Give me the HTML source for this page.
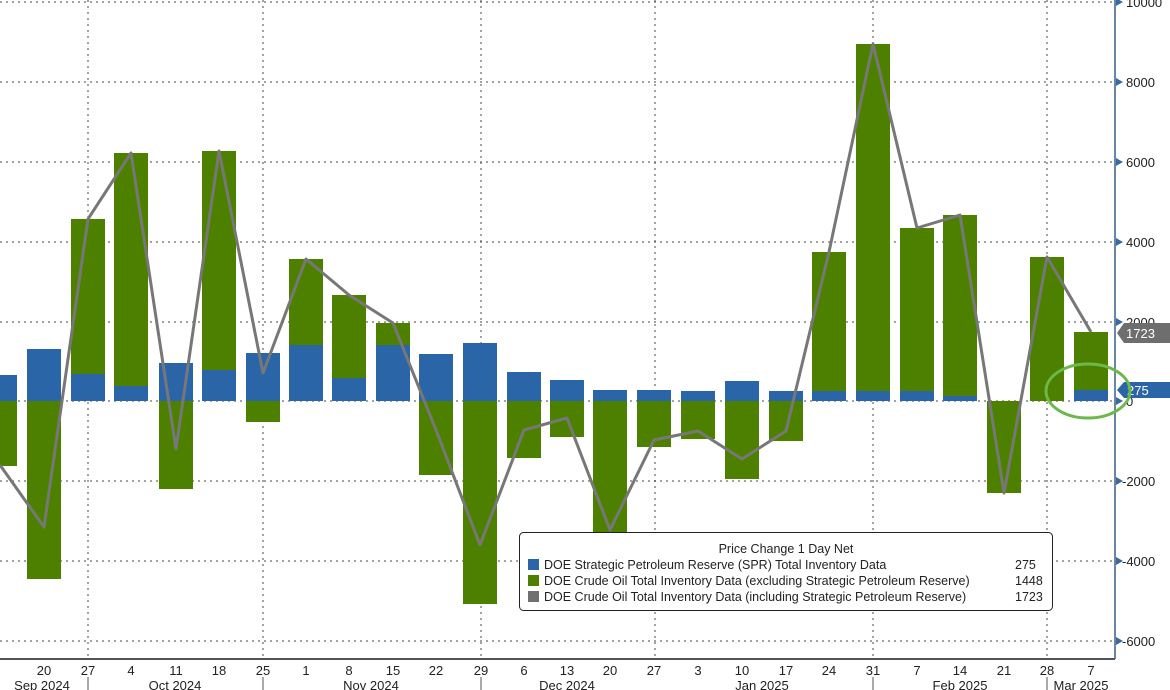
<!DOCTYPE html>
<html><head><meta charset="utf-8"><style>
html,body{margin:0;padding:0;background:#fff;}
svg{display:block;font-family:"Liberation Sans",sans-serif;}
</style></head><body>
<svg width="1170" height="690" viewBox="0 0 1170 690" xmlns="http://www.w3.org/2000/svg">
<g stroke="#444" stroke-width="1" stroke-dasharray="2,4">
<line x1="0" x2="1115" y1="2" y2="2"/>
<line x1="0" x2="1115" y1="82" y2="82"/>
<line x1="0" x2="1115" y1="162" y2="162"/>
<line x1="0" x2="1115" y1="242" y2="242"/>
<line x1="0" x2="1115" y1="322" y2="322"/>
<line x1="0" x2="1115" y1="401" y2="401"/>
<line x1="0" x2="1115" y1="481" y2="481"/>
<line x1="0" x2="1115" y1="561" y2="561"/>
<line x1="0" x2="1115" y1="641" y2="641"/>
<line x1="88" x2="88" y1="0" y2="659"/>
<line x1="263" x2="263" y1="0" y2="659"/>
<line x1="481" x2="481" y1="0" y2="659"/>
<line x1="655" x2="655" y1="0" y2="659"/>
<line x1="873" x2="873" y1="0" y2="659"/>
<line x1="1047" x2="1047" y1="0" y2="659"/>
</g>
<g fill="#4e8000">
<rect x="-17" y="401" width="34" height="65"/>
<rect x="27" y="401" width="34" height="178"/>
<rect x="71" y="219" width="34" height="155"/>
<rect x="114" y="153" width="34" height="233"/>
<rect x="159" y="401" width="34" height="88"/>
<rect x="202" y="151" width="34" height="219"/>
<rect x="246" y="401" width="34" height="21"/>
<rect x="289" y="259" width="34" height="86"/>
<rect x="332" y="295" width="34" height="83"/>
<rect x="376" y="323" width="34" height="22"/>
<rect x="419" y="401" width="34" height="74"/>
<rect x="463" y="401" width="34" height="203"/>
<rect x="507" y="401" width="34" height="57"/>
<rect x="550" y="401" width="34" height="36"/>
<rect x="593" y="401" width="34" height="131"/>
<rect x="637" y="401" width="34" height="46"/>
<rect x="681" y="401" width="34" height="38"/>
<rect x="725" y="401" width="34" height="78"/>
<rect x="769" y="401" width="34" height="40"/>
<rect x="812" y="252" width="34" height="139"/>
<rect x="856" y="44" width="34" height="347"/>
<rect x="900" y="228" width="34" height="163"/>
<rect x="943" y="215" width="34" height="181"/>
<rect x="987" y="401" width="34" height="92"/>
<rect x="1030" y="257" width="34" height="144"/>
<rect x="1074" y="332" width="34" height="58"/>
</g>
<g fill="#2a65a8">
<rect x="-17" y="375" width="34" height="26"/>
<rect x="27" y="349" width="34" height="52"/>
<rect x="71" y="374" width="34" height="27"/>
<rect x="114" y="386" width="34" height="15"/>
<rect x="159" y="363" width="34" height="38"/>
<rect x="202" y="370" width="34" height="31"/>
<rect x="246" y="353" width="34" height="48"/>
<rect x="289" y="345" width="34" height="56"/>
<rect x="332" y="378" width="34" height="23"/>
<rect x="376" y="345" width="34" height="56"/>
<rect x="419" y="354" width="34" height="47"/>
<rect x="463" y="343" width="34" height="58"/>
<rect x="507" y="372" width="34" height="29"/>
<rect x="550" y="380" width="34" height="21"/>
<rect x="593" y="390" width="34" height="11"/>
<rect x="637" y="390" width="34" height="11"/>
<rect x="681" y="391" width="34" height="10"/>
<rect x="725" y="381" width="34" height="20"/>
<rect x="769" y="391" width="34" height="10"/>
<rect x="812" y="391" width="34" height="10"/>
<rect x="856" y="391" width="34" height="10"/>
<rect x="900" y="391" width="34" height="10"/>
<rect x="943" y="396" width="34" height="5"/>
<rect x="1074" y="390" width="34" height="11"/>
</g>
<polyline fill="none" stroke="#777" stroke-width="3" stroke-linejoin="round" points="0,465 44,527 88,219 131,153 176,449 219,151 263,373 306,259 349,295 393,323 436,430 480,545 524,430 567,418 610,530 654,440 698,431 742,459 786,431 829,252 873,44 917,228 960,215 1004,493 1047,257 1091,332"/>
<line x1="0" x2="1115" y1="659" y2="659" stroke="#1a1a1a" stroke-width="1.5"/>
<line x1="1115" x2="1115" y1="0" y2="659" stroke="#3a5f85" stroke-width="1.5"/>
<g fill="#3a6a9a">
<polygon points="1116,-2 1123,2 1116,6"/><polygon points="1116,78 1123,82 1116,86"/><polygon points="1116,158 1123,162 1116,166"/><polygon points="1116,238 1123,242 1116,246"/><polygon points="1116,318 1123,322 1116,326"/><polygon points="1116,397 1123,401 1116,405"/><polygon points="1116,477 1123,481 1116,485"/><polygon points="1116,557 1123,561 1116,565"/><polygon points="1116,637 1123,641 1116,645"/>
</g>
<g font-size="13" fill="#222">
<text x="1126" y="7">10000</text><text x="1126" y="87">8000</text><text x="1126" y="167">6000</text><text x="1126" y="247">4000</text><text x="1126" y="327">2000</text><text x="1126" y="406">0</text><text x="1122" y="486">-2000</text><text x="1122" y="566">-4000</text><text x="1122" y="646">-6000</text>
</g>
<polygon points="1117,333 1124,323 1170,323 1170,343 1124,343" fill="#6e6e6e"/>
<text x="1126" y="338" font-size="13" fill="#fff">1723</text>
<polygon points="1117,390 1124,382 1170,382 1170,398 1124,398" fill="#2a65a8"/>
<text x="1127" y="395" font-size="13" fill="#fff">275</text>
<ellipse cx="1088" cy="391" rx="42" ry="27" fill="none" stroke="#6cb84a" stroke-width="3"/>
<g font-size="13" fill="#222" text-anchor="middle">
<text x="44" y="675">20</text><text x="88" y="675">27</text><text x="131" y="675">4</text><text x="176" y="675">11</text><text x="219" y="675">18</text><text x="263" y="675">25</text><text x="306" y="675">1</text><text x="349" y="675">8</text><text x="393" y="675">15</text><text x="436" y="675">22</text><text x="481" y="675">29</text><text x="524" y="675">6</text><text x="567" y="675">13</text><text x="610" y="675">20</text><text x="654" y="675">27</text><text x="698" y="675">3</text><text x="742" y="675">10</text><text x="786" y="675">17</text><text x="829" y="675">24</text><text x="873" y="675">31</text><text x="917" y="675">7</text><text x="960" y="675">14</text><text x="1004" y="675">21</text><text x="1047" y="675">28</text><text x="1091" y="675">7</text>
<text x="42" y="690">Sep 2024</text><text x="175" y="690">Oct 2024</text><text x="371" y="690">Nov 2024</text><text x="567" y="690">Dec 2024</text><text x="762" y="690">Jan 2025</text><text x="960" y="690">Feb 2025</text><text x="1081" y="690">Mar 2025</text>
</g>
<g stroke="#555" stroke-width="1">
<line x1="88" x2="88" y1="677" y2="690"/><line x1="263" x2="263" y1="677" y2="690"/><line x1="481" x2="481" y1="677" y2="690"/><line x1="873" x2="873" y1="677" y2="690"/><line x1="1047" x2="1047" y1="677" y2="690"/>
</g>
<rect x="519.5" y="532.5" width="533" height="78" rx="4" fill="#fff" stroke="#222" stroke-width="1"/>
<g font-size="12.5" fill="#222">
<text x="786" y="553" text-anchor="middle">Price Change 1 Day Net</text>
<rect x="528" y="559" width="11" height="11" fill="#2a65a8"/><text x="544" y="569">DOE Strategic Petroleum Reserve (SPR) Total Inventory Data</text><text x="1015" y="569">275</text>
<rect x="528" y="575" width="11" height="11" fill="#4e8000"/><text x="544" y="585">DOE Crude Oil Total Inventory Data (excluding Strategic Petroleum Reserve)</text><text x="1015" y="585">1448</text>
<rect x="528" y="591" width="11" height="11" fill="#707070"/><text x="544" y="601">DOE Crude Oil Total Inventory Data (including Strategic Petroleum Reserve)</text><text x="1015" y="601">1723</text>
</g>
</svg>
</body></html>
